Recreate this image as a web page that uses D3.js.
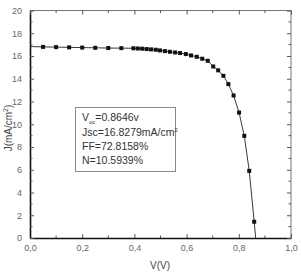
<!DOCTYPE html>
<html lang="en">
<head>
<meta charset="utf-8">
<script src="https://d3js.org/d3.v7.min.js"></script>
<style>
  body { margin: 0; background: #fff; }
  text { font-family: "Liberation Sans", Arial, sans-serif; }
</style>
</head>
<body>
<script>
// J-V curve
var voltage = [0, 0.05, 0.10, 0.15, 0.20, 0.25, 0.30, 0.35, 0.396, 0.413, 0.430, 0.447, 0.464, 0.482,
               0.498, 0.517, 0.536, 0.556, 0.575, 0.597, 0.617, 0.639, 0.660, 0.681, 0.702, 0.721,
               0.741, 0.760, 0.780, 0.801, 0.821, 0.840, 0.859];
var current = [16.83, 16.80, 16.78, 16.76, 16.74, 16.72, 16.70, 16.69, 16.68, 16.66, 16.64, 16.61, 16.58, 16.55,
               16.49, 16.43, 16.37, 16.31, 16.26, 16.17, 16.05, 15.93, 15.76, 15.58, 15.08, 14.74,
               14.26, 13.53, 12.53, 11.03, 8.98, 5.90, 1.43];
var vocPoint = [0.8646, 0];
var xTicks = [0, 0.2, 0.4, 0.6, 0.8, 1.0];
var yTicks = [0, 2, 4, 6, 8, 10, 12, 14, 16, 18, 20];
var infoLines = ["Jsc=16.8279mA/cm", "FF=72.8158%", "N=10.5939%"];

var W = 301, H = 274;
var x = d3.scaleLinear().domain([0, 1]).range([30, 291]);
var y = d3.scaleLinear().domain([0, 20]).range([238, 10.5]);

var svg = d3.select("body").append("svg")
    .attr("width", W).attr("height", H);

var fmt = function(d) { return d3.format(".1f")(d).replace(".", ","); };
var minorX = d3.range(0.1, 1, 0.2);
var minorY = d3.range(1, 20, 2);

// frame: top and right thin grey
svg.append("path")
    .attr("d", "M" + x(0) + "," + y(20) + "H" + x(1) + "V" + y(0))
    .attr("fill", "none").attr("stroke", "#777").attr("stroke-width", 1);

// bottom axis
var gx = svg.append("g").attr("transform", "translate(0," + y(0) + ")")
    .call(d3.axisBottom(x).tickValues(xTicks).tickFormat(fmt).tickSizeInner(-4).tickSizeOuter(0).tickPadding(7));
gx.selectAll(".tick").append("line").attr("class", "minor");
gx.selectAll("text").attr("fill", "#666").attr("font-size", 9);
gx.selectAll(".tick line").attr("stroke", "#555");
gx.select(".domain").attr("stroke", "#111").attr("stroke-width", 1.6);
gx.selectAll(".mx").data(minorX).enter().append("line")
    .attr("x1", function(d) { return x(d); }).attr("x2", function(d) { return x(d); })
    .attr("y1", 0).attr("y2", -2.5).attr("stroke", "#555");

// left axis
var gy = svg.append("g").attr("transform", "translate(" + x(0) + ",0)")
    .call(d3.axisLeft(y).tickValues(yTicks).tickSizeInner(-4).tickSizeOuter(0).tickPadding(8));
gy.selectAll("text").attr("fill", "#666").attr("font-size", 9);
gy.selectAll(".tick line").attr("stroke", "#555");
gy.select(".domain").attr("stroke", "#111").attr("stroke-width", 1.6);
gy.selectAll(".my").data(minorY).enter().append("line")
    .attr("y1", function(d) { return y(d); }).attr("y2", function(d) { return y(d); })
    .attr("x1", 0).attr("x2", 2.5).attr("stroke", "#555");

// top axis ticks
var gt = svg.append("g").attr("transform", "translate(0," + y(20) + ")")
    .call(d3.axisTop(x).tickValues(xTicks).tickFormat("").tickSizeInner(-4).tickSizeOuter(0));
gt.select(".domain").remove();
gt.selectAll(".tick line").attr("stroke", "#555");
gt.selectAll(".mt").data(minorX).enter().append("line")
    .attr("x1", function(d) { return x(d); }).attr("x2", function(d) { return x(d); })
    .attr("y1", 0).attr("y2", 2.5).attr("stroke", "#555");

// right axis ticks
var gr = svg.append("g").attr("transform", "translate(" + x(1) + ",0)")
    .call(d3.axisRight(y).tickValues(yTicks).tickFormat("").tickSizeInner(-4).tickSizeOuter(0));
gr.select(".domain").remove();
gr.selectAll(".tick line").attr("stroke", "#555");
gr.selectAll(".mr").data(minorY).enter().append("line")
    .attr("y1", function(d) { return y(d); }).attr("y2", function(d) { return y(d); })
    .attr("x1", 0).attr("x2", -2.5).attr("stroke", "#555");

// axis titles
svg.append("text").attr("x", 160).attr("y", 269).attr("text-anchor", "middle")
    .attr("font-size", 10).attr("fill", "#444").text("V(V)");
var yl = svg.append("text").attr("transform", "translate(12,128) rotate(-90)")
    .attr("text-anchor", "middle").attr("font-size", 10).attr("fill", "#444");
yl.append("tspan").text("J(mA/cm");
yl.append("tspan").attr("font-size", 7).attr("dy", -4).text("2");
yl.append("tspan").attr("dy", 4).text(")");

// curve
var pts = voltage.map(function(v, i) { return [v, current[i]]; });
var line = d3.line().x(function(d) { return x(d[0]); }).y(function(d) { return y(d[1]); });
svg.append("path").datum(pts.concat([vocPoint]))
    .attr("fill", "none").attr("stroke", "#222").attr("stroke-width", 0.9).attr("d", line);

svg.append("g").selectAll("rect").data(pts.slice(1)).enter().append("rect")
    .attr("x", function(d) { return x(d[0]) - 2; })
    .attr("y", function(d) { return y(d[1]) - 2; })
    .attr("width", 4).attr("height", 4).attr("fill", "#111");

// info box
svg.append("rect").attr("x", 75.5).attr("y", 107.5).attr("width", 100).attr("height", 64)
    .attr("fill", "#fff").attr("stroke", "#888").attr("stroke-width", 1);
var tb = svg.append("g").attr("font-size", 10.5).attr("fill", "#333");
var t0 = tb.append("text").attr("x", 82).attr("y", 121);
t0.append("tspan").text("V");
t0.append("tspan").attr("font-size", 6).attr("dy", 3).text("oc");
t0.append("tspan").attr("dy", -3).text("=0.8646v");
tb.selectAll(".info").data(infoLines).enter().append("text")
    .attr("x", 82).attr("y", function(d, i) { return 135.5 + i * 14; })
    .each(function(d, i) {
        d3.select(this).append("tspan").text(d);
        if (i === 0) d3.select(this).append("tspan").attr("font-size", 6).attr("dy", -4).text("2");
    });
</script>
</body>
</html>
